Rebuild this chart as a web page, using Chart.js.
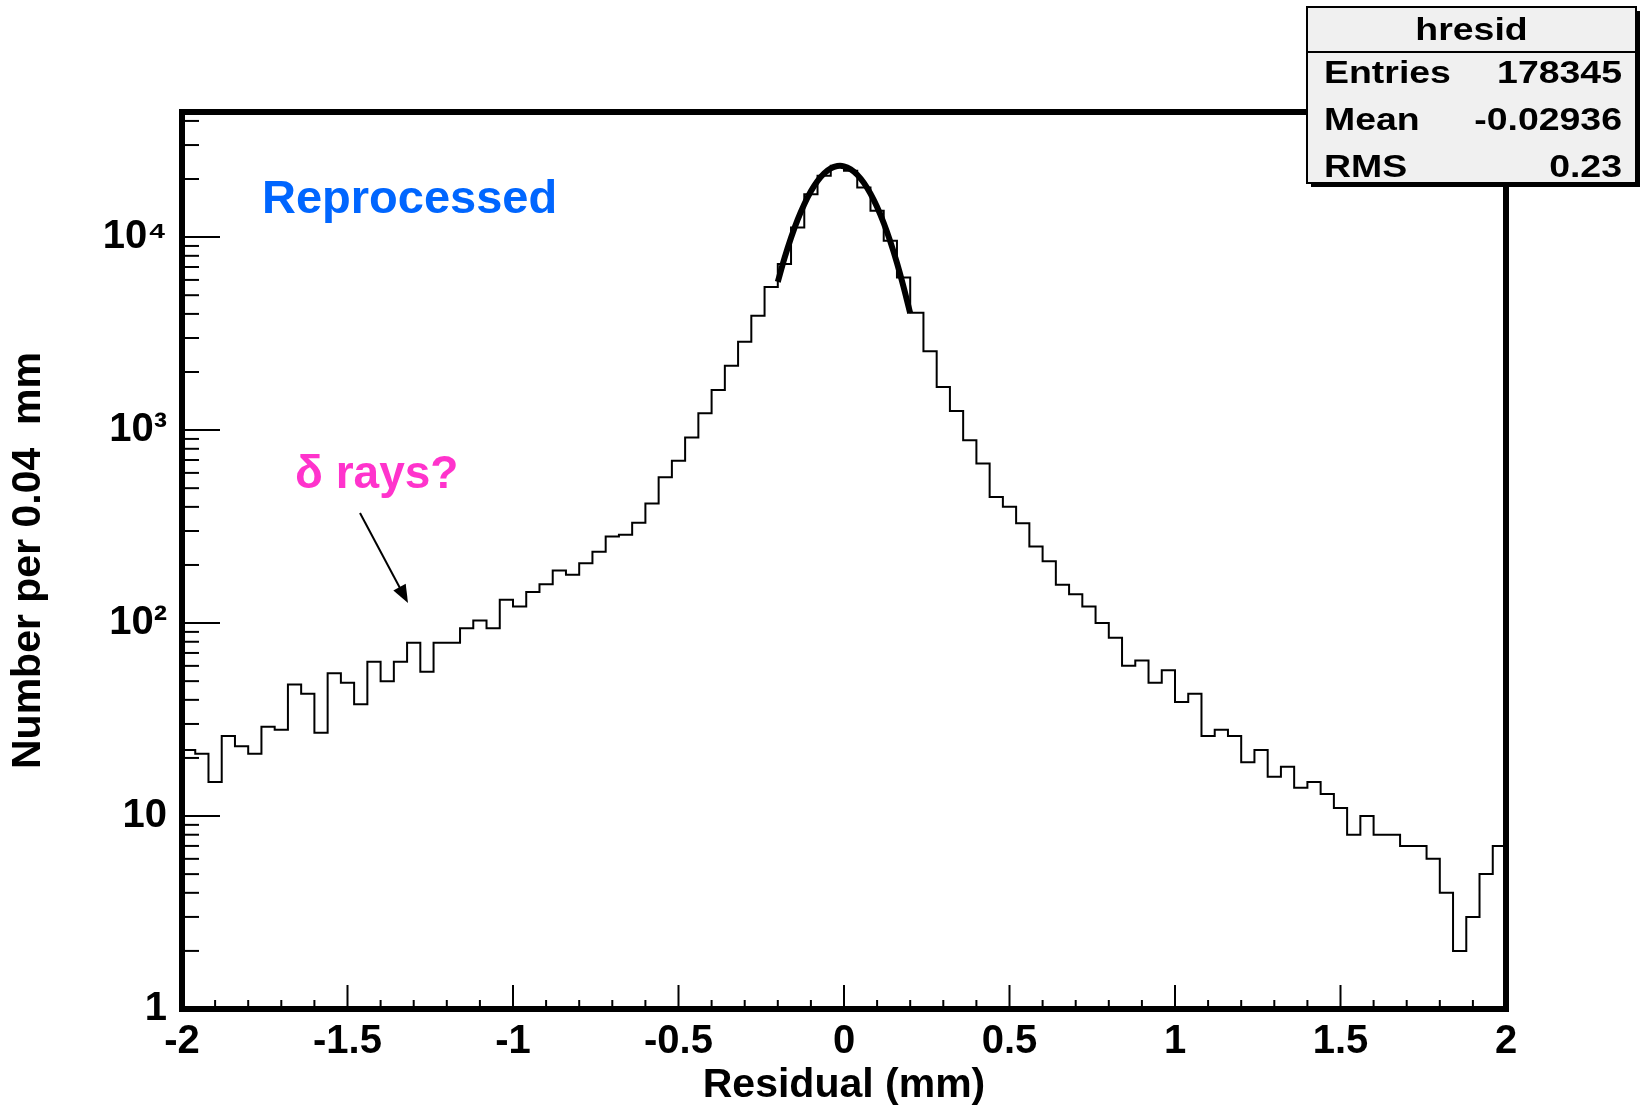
<!DOCTYPE html>
<html>
<head>
<meta charset="utf-8">
<script src="https://cdn.jsdelivr.net/npm/chart.js@4"></script>
<style>
  body { margin: 0; background: #fff; }
  canvas { display: block; }
</style>
</head>
<body>
<canvas id="hresid" width="1640" height="1110"></canvas>
<script>
// histogram hresid: 100 bins of 0.04 mm from -2 to 2
const xMin = -2;
const binWidth = 0.04;
const binCounts = [
  22, 21, 15, 26, 23, 21, 29, 28, 48, 43,
  27, 55, 49, 38, 63, 50, 63, 79, 56, 79,
  79, 94, 103, 94, 132, 122, 145, 159, 187, 178,
  204, 234, 281, 287, 331, 416, 569, 694, 916, 1222,
  1611, 2157, 2871, 3917, 5510, 7245, 11220, 16700, 20800, 23440,
  22090, 18070, 13700, 9580, 6180, 4050, 2558, 1670, 1255, 887,
  672, 450, 401, 329, 249, 209, 158, 141, 122, 100,
  84, 60, 64, 49, 57, 39, 43, 26, 28, 26,
  19, 22, 16, 18, 14, 15, 13, 11, 8, 10,
  8, 8, 7, 7, 6, 4, 2, 3, 5, 7
];

// gaussian fit curve (thick line)
const fitX = [-0.20, -0.18, -0.16, -0.14, -0.12, -0.10, -0.08, -0.06, -0.04, -0.02,
  0.00, 0.02, 0.04, 0.06, 0.08, 0.10, 0.12, 0.14, 0.16, 0.18, 0.20];
const fitY = [5860, 7750, 9920, 12320, 14820, 17280, 19520, 21380, 22690, 23340,
  23270, 22480, 21050, 19100, 16800, 14320, 11830, 9470, 7350, 5520, 4030];

// axes
const xTickValues = [-2, -1.5, -1, -0.5, 0, 0.5, 1, 1.5, 2];
const xTickLabels = ['-2', '-1.5', '-1', '-0.5', '0', '0.5', '1', '1.5', '2'];
const yTickValues = [1, 10, 100, 1000, 10000];
const yTickLabels = ['1', '10', '10\u00B2', '10\u00B3', '10\u2074'];
const yMinorSteps = [2, 3, 4, 5, 6, 7, 8, 9];

// stats box
const statsTitle = 'hresid';
const statsNames = ['Entries', 'Mean', 'RMS'];
const statsValues = ['178345', '-0.02936', '0.23'];

const FONT = "'Liberation Sans', Arial, sans-serif";

// step outline points (low edges + closing point at the upper edge)
const histPoints = binCounts.map((c, i) => ({x: xMin + i * binWidth, y: c}));
histPoints.push({x: xMin + binCounts.length * binWidth, y: binCounts[binCounts.length - 1]});
const fitPoints = fitX.map((x, i) => ({x: x, y: fitY[i]}));

function seg(ctx, x1, y1, x2, y2) {
  ctx.beginPath();
  ctx.moveTo(x1, y1);
  ctx.lineTo(x2, y2);
  ctx.stroke();
}

// text a bit wider than the font, like the ROOT stats box
function wideText(ctx, t, x, y, align, sx) {
  ctx.save();
  ctx.translate(x, y);
  ctx.scale(sx, 1);
  ctx.textAlign = align;
  ctx.fillText(t, 0, 0);
  ctx.restore();
}

// ROOT style frame with inward ticks
const rootFrame = {
  id: 'rootFrame',
  afterDatasetsDraw(chart) {
    const {ctx, chartArea: a, scales: {x, y}} = chart;
    ctx.save();
    ctx.strokeStyle = '#000';
    ctx.lineWidth = 2;
    // y ticks: decades long, 2..9 short
    yTickValues.forEach(dec => {
      seg(ctx, a.left, y.getPixelForValue(dec), a.left + 38, y.getPixelForValue(dec));
      yMinorSteps.forEach(m => {
        const v = dec * m;
        if (v <= y.max) {
          const py = y.getPixelForValue(v);
          seg(ctx, a.left, py, a.left + 17, py);
        }
      });
    });
    // x ticks every 0.1, long every 0.5
    for (let i = 0; i <= 40; i++) {
      const px = x.getPixelForValue(xMin + i * 0.1);
      const len = i % 5 === 0 ? 24 : 9;
      seg(ctx, px, a.bottom, px, a.bottom - len);
    }
    ctx.lineWidth = 6;
    ctx.strokeRect(a.left, a.top, a.right - a.left, a.bottom - a.top);
    ctx.restore();
  }
};

// stats box and text notes
const notes = {
  id: 'notes',
  afterDraw(chart) {
    const ctx = chart.ctx;
    ctx.save();
    // stats box with shadow
    const bx = 1307, by = 7, bw = 329, bh = 176;
    ctx.fillStyle = '#000';
    ctx.fillRect(bx + 4, by + 4, bw, bh);
    ctx.fillStyle = '#f0f0f0';
    ctx.fillRect(bx, by, bw, bh);
    ctx.strokeStyle = '#000';
    ctx.lineWidth = 2;
    ctx.strokeRect(bx, by, bw, bh);
    seg(ctx, bx, by + 45, bx + bw, by + 45);
    ctx.fillStyle = '#000';
    ctx.font = 'bold 32px ' + FONT;
    ctx.textBaseline = 'alphabetic';
    wideText(ctx, statsTitle, bx + bw / 2, 40, 'center', 1.17);
    statsNames.forEach((n, i) => {
      const yy = 83 + i * 47;
      wideText(ctx, n, 1324, yy, 'left', 1.17);
      wideText(ctx, statsValues[i], 1622, yy, 'right', 1.17);
    });

    // annotations
    ctx.textAlign = 'left';
    ctx.font = 'bold 47px ' + FONT;
    ctx.fillStyle = 'rgb(0, 102, 255)';
    ctx.fillText('Reprocessed', 262, 213);
    ctx.font = 'bold 46px ' + FONT;
    ctx.fillStyle = 'rgb(255, 51, 204)';
    ctx.fillText('\u03B4 rays?', 295, 488);

    // arrow
    const x1 = 360, y1 = 513, x2 = 408, y2 = 603;
    const ang = Math.atan2(y2 - y1, x2 - x1);
    ctx.strokeStyle = '#000';
    ctx.lineWidth = 2;
    seg(ctx, x1, y1, x2 - 12 * Math.cos(ang), y2 - 12 * Math.sin(ang));
    ctx.fillStyle = '#000';
    ctx.beginPath();
    ctx.moveTo(x2, y2);
    ctx.lineTo(x2 - 18 * Math.cos(ang) + 7 * Math.sin(ang), y2 - 18 * Math.sin(ang) - 7 * Math.cos(ang));
    ctx.lineTo(x2 - 18 * Math.cos(ang) - 7 * Math.sin(ang), y2 - 18 * Math.sin(ang) + 7 * Math.cos(ang));
    ctx.closePath();
    ctx.fill();
    ctx.restore();
  }
};

const config = {
  type: 'line',
  data: {
    datasets: [
      {
        label: 'fit',
        data: fitPoints,
        borderColor: '#000',
        borderWidth: 6,
        pointRadius: 0,
        tension: 0.3,
        fill: false,
        order: 0
      },
      {
        label: 'hresid',
        data: histPoints,
        stepped: 'before',
        borderColor: '#000',
        borderWidth: 2,
        pointRadius: 0,
        fill: false,
        order: 1
      }
    ]
  },
  options: {
    responsive: false,
    animation: false,
    devicePixelRatio: 1,
    layout: { padding: { top: 112, right: 134, left: 0, bottom: 0 } },
    plugins: { legend: { display: false }, tooltip: { enabled: false } },
    scales: {
      x: {
        type: 'linear',
        min: -2,
        max: 2,
        grid: { display: false },
        border: { display: false },
        afterBuildTicks: (scale) => { scale.ticks = xTickValues.map(v => ({value: v})); },
        afterFit: (scale) => { scale.height = 101; },
        ticks: {
          autoSkip: false,
          maxRotation: 0,
          padding: 1,
          color: '#000',
          font: { family: FONT, size: 40, weight: 'bold' },
          callback: (v) => xTickLabels[xTickValues.indexOf(v)]
        },
        title: {
          display: true,
          text: 'Residual (mm)',
          color: '#000',
          font: { family: FONT, size: 41, weight: 'bold' },
          padding: { top: 0, bottom: 0 }
        }
      },
      y: {
        type: 'logarithmic',
        min: 1,
        max: 44500,
        grid: { display: false },
        border: { display: false },
        afterBuildTicks: (scale) => { scale.ticks = yTickValues.map(v => ({value: v})); },
        afterFit: (scale) => { scale.width = 182; },
        ticks: {
          autoSkip: false,
          padding: 7,
          color: '#000',
          font: { family: FONT, size: 40, weight: 'bold' },
          callback: (v) => yTickLabels[yTickValues.indexOf(v)]
        },
        title: {
          display: true,
          text: 'Number per 0.04  mm',
          color: '#000',
          font: { family: FONT, size: 41, weight: 'bold' },
          padding: { top: 4, bottom: 0 }
        }
      }
    }
  },
  plugins: [rootFrame, notes]
};

const hresidChart = new Chart(document.getElementById('hresid'), config);
</script>
</body>
</html>
